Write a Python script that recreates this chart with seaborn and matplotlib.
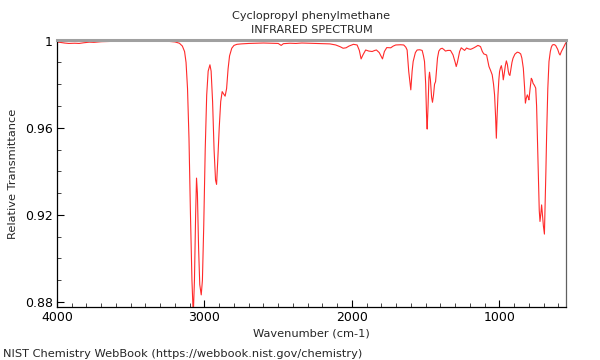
import matplotlib
matplotlib.use("Agg")
import matplotlib.pyplot as plt
import seaborn as sns
import pandas as pd
from matplotlib.ticker import FixedLocator, MultipleLocator

title_line1 = "Cyclopropyl phenylmethane"
title_line2 = "INFRARED SPECTRUM"
x_label = "Wavenumber (cm-1)"
y_label = "Relative Transmittance"
footer = "NIST Chemistry WebBook (https://webbook.nist.gov/chemistry)"

wavenumber = [
    4000, 3980, 3950, 3920, 3880, 3850, 3820, 3780, 3750, 3700, 3650, 3600,
    3550, 3500, 3450, 3400, 3350, 3300, 3250, 3200, 3170, 3150, 3135, 3125,
    3115, 3105, 3095, 3085, 3076, 3068, 3060, 3054, 3048, 3040, 3032, 3022,
    3014, 3005, 2995, 2985, 2975, 2963, 2955, 2945, 2935, 2925, 2918, 2910,
    2900, 2890, 2880, 2870, 2860, 2850, 2840, 2830, 2815, 2800, 2780, 2750,
    2700, 2650, 2600, 2550, 2500, 2480, 2465, 2420, 2380, 2340, 2300, 2250,
    2200, 2150, 2110, 2080, 2060, 2040, 2020, 1990, 1965, 1950, 1938, 1925,
    1907, 1886, 1863, 1845, 1834, 1815, 1800, 1793, 1780, 1764, 1737, 1720,
    1703, 1670, 1649, 1635, 1626, 1615, 1601, 1592, 1585, 1570, 1558, 1540,
    1524, 1515, 1508, 1500, 1494, 1490, 1484, 1478, 1474, 1468, 1460, 1454,
    1447, 1440, 1433, 1420, 1411, 1400, 1388, 1375, 1366, 1350, 1332, 1315,
    1300, 1293, 1285, 1270, 1259, 1245, 1236, 1223, 1210, 1196, 1185, 1173,
    1160, 1146, 1135, 1128, 1116, 1106, 1095, 1087, 1071, 1060, 1049, 1040,
    1033, 1026, 1021, 1016, 1010, 1004, 999, 993, 987, 980, 974, 967,
    960, 953, 946, 940, 935, 929, 922, 915, 908, 895, 879, 868,
    856, 848, 838, 830, 824, 818, 811, 805, 800, 792, 784, 778,
    772, 763, 754, 748, 743, 735, 730, 725, 720, 714, 708, 702,
    695, 690, 685, 680, 672, 664, 655, 648, 641, 630, 619, 605,
    595, 589, 580, 566, 550,
]

transmittance = [
    0.9993, 0.9992, 0.9989, 0.9987, 0.9988, 0.9987, 0.9990, 0.9993, 0.9992, 0.9995, 0.9996, 0.9997,
    0.9998, 0.9999, 0.9998, 0.9999, 0.9998, 0.9999, 0.9997, 0.9994, 0.9988, 0.9975, 0.9950, 0.9900,
    0.9780, 0.9550, 0.9200, 0.8900, 0.8740, 0.8900, 0.9200, 0.9369, 0.9300, 0.9050, 0.8880, 0.8833,
    0.8900, 0.9150, 0.9500, 0.9750, 0.9860, 0.9889, 0.9860, 0.9720, 0.9500, 0.9360, 0.9340, 0.9450,
    0.9600, 0.9720, 0.9766, 0.9755, 0.9745, 0.9780, 0.9870, 0.9930, 0.9965, 0.9978, 0.9983, 0.9985,
    0.9987, 0.9988, 0.9989, 0.9988, 0.9987, 0.9978, 0.9986, 0.9988, 0.9987, 0.9989, 0.9988, 0.9987,
    0.9986, 0.9985, 0.9980, 0.9972, 0.9965, 0.9967, 0.9975, 0.9983, 0.9980, 0.9955, 0.9916, 0.9935,
    0.9957, 0.9952, 0.9950, 0.9955, 0.9957, 0.9945, 0.9925, 0.9916, 0.9950, 0.9968, 0.9967, 0.9975,
    0.9980, 0.9981, 0.9980, 0.9970, 0.9957, 0.9858, 0.9774, 0.9860, 0.9904, 0.9945, 0.9957, 0.9958,
    0.9955, 0.9930, 0.9904, 0.9800, 0.9650, 0.9594, 0.9700, 0.9830, 0.9855, 0.9820, 0.9740, 0.9717,
    0.9750, 0.9800, 0.9812, 0.9920, 0.9952, 0.9962, 0.9965, 0.9958, 0.9952, 0.9955, 0.9955, 0.9935,
    0.9900, 0.9881, 0.9900, 0.9950, 0.9967, 0.9960, 0.9955, 0.9966, 0.9962, 0.9960, 0.9963, 0.9967,
    0.9972, 0.9978, 0.9975, 0.9972, 0.9950, 0.9939, 0.9936, 0.9934, 0.9881, 0.9863, 0.9843, 0.9800,
    0.9751, 0.9650, 0.9552, 0.9650, 0.9750, 0.9820, 0.9858, 0.9875, 0.9885, 0.9860, 0.9820, 0.9850,
    0.9885, 0.9907, 0.9890, 0.9860, 0.9845, 0.9840, 0.9870, 0.9900, 0.9919, 0.9938, 0.9947, 0.9945,
    0.9939, 0.9920, 0.9873, 0.9790, 0.9713, 0.9735, 0.9751, 0.9740, 0.9728, 0.9780, 0.9827, 0.9820,
    0.9804, 0.9795, 0.9782, 0.9700, 0.9567, 0.9350, 0.9220, 0.9170, 0.9200, 0.9246, 0.9200, 0.9150,
    0.9112, 0.9250, 0.9400, 0.9567, 0.9780, 0.9904, 0.9950, 0.9970, 0.9980, 0.9982, 0.9978, 0.9960,
    0.9940, 0.9934, 0.9950, 0.9968, 0.9990,
]

y_ticks = [0.88, 0.92, 0.96, 1.0]
y_tick_labels = ["0.88", "0.92", "0.96", "1"]
x_ticks = [4000, 3000, 2000, 1000]
x_tick_labels = ["4000", "3000", "2000", "1000"]

df = pd.DataFrame({"wavenumber": wavenumber, "transmittance": transmittance})

sns.set_style("white")
plt.rcParams["font.family"] = ["DejaVu Sans"]

fig = plt.figure(figsize=(6, 3.6), dpi=100)
ax = fig.add_axes([0.095, 0.147, 0.848, 0.742])

sns.lineplot(data=df, x="wavenumber", y="transmittance", ax=ax,
             color="#ff2a2a", linewidth=0.8, sort=False)

ax.set_xlim(4000, 550)
ax.set_ylim(0.8777, 1.0003)

ax.xaxis.set_major_locator(FixedLocator(x_ticks))
ax.set_xticklabels(x_tick_labels)
ax.xaxis.set_minor_locator(MultipleLocator(100))
ax.yaxis.set_major_locator(FixedLocator(y_ticks))
ax.set_yticklabels(y_tick_labels)
ax.yaxis.set_minor_locator(MultipleLocator(0.01))

ax.tick_params(axis="both", which="major", direction="in", length=5, width=0.8,
               labelsize=9, colors="black", pad=3,
               bottom=True, left=True, top=False, right=False)
ax.tick_params(axis="both", which="minor", direction="in", length=3, width=0.6,
               bottom=True, left=True, top=False, right=False)

for side in ["left", "bottom"]:
    ax.spines[side].set_color("black")
    ax.spines[side].set_linewidth(0.9)
ax.spines["top"].set_color("#a0a0a0")
ax.spines["top"].set_linewidth(2.2)
ax.spines["right"].set_color("#606060")
ax.spines["right"].set_linewidth(0.9)

ax.set_xlabel(x_label, fontsize=8.2, labelpad=3)
ax.set_ylabel(y_label, fontsize=8.2, labelpad=5)
ax.set_title(title_line1 + "\n" + title_line2, fontsize=8.1, pad=5, linespacing=1.45)

fig.text(0.005, 0.004, footer, fontsize=8.2, ha="left", va="bottom")

fig.savefig("out.png", dpi=100)
